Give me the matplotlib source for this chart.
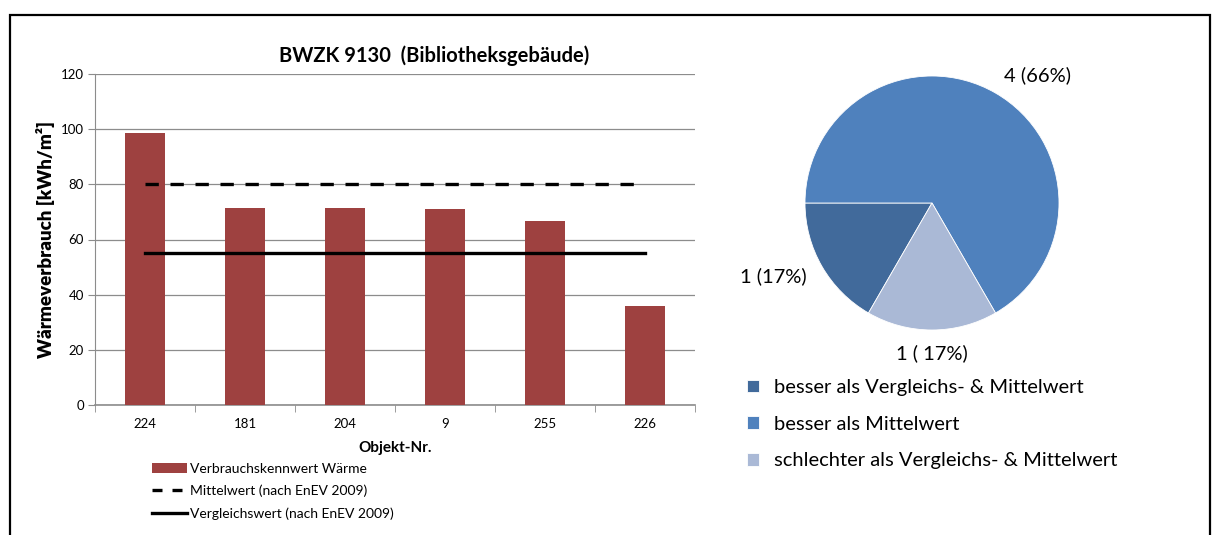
import matplotlib
matplotlib.use("Agg")
import matplotlib.pyplot as plt
from matplotlib.patches import Rectangle, Patch
from matplotlib.lines import Line2D
import numpy as np

plt.rcParams['font.family'] = ['Lato', 'DejaVu Sans']

# ---- data ----
objects = ["224", "181", "204", "9", "255", "226"]
consumption = [98.5, 71.5, 71.3, 71.0, 66.7, 36.0]
mittelwert = 80
vergleichswert = 55

pie_labels = ["besser als Vergleichs- & Mittelwert", "besser als Mittelwert",
              "schlechter als Vergleichs- & Mittelwert"]
pie_counts = [1, 4, 1]
pie_texts = ["1 (17%)", "4 (66%)", "1 ( 17%)"]

title = "BWZK 9130  (Bibliotheksgebäude)"
ylabel = "Wärmeverbrauch [kWh/m²]"
xlabel = "Objekt-Nr."
bar_legend = ["Verbrauchskennwert Wärme", "Mittelwert (nach EnEV 2009)",
              "Vergleichswert (nach EnEV 2009)"]

W, H = 1214, 535
fig = plt.figure(figsize=(W / 100, H / 100), dpi=100)

# outer frame
fig.add_artist(Rectangle((10 / W, -0.05), 1200 / W, 1 - 15 / H + 0.05,
                         transform=fig.transFigure, fill=False,
                         edgecolor='black', linewidth=1.6))

# ---- bar chart ----
ax = fig.add_axes([95 / W, 1 - 405 / H, 600 / W, (405 - 74) / H])
x = np.arange(len(objects))
ax.bar(x, consumption, width=0.4, color='#9E4140', zorder=3)
ax.plot([x[0], x[-1]], [mittelwert] * 2, color='black', lw=2.4,
        dashes=(4, 3.5), zorder=4)
ax.plot([x[0], x[-1]], [vergleichswert] * 2, color='black', lw=2.4, zorder=4)
ax.set_xlim(-0.5, len(objects) - 0.5)
ax.set_ylim(0, 120)
ax.set_yticks(range(0, 121, 20))
ax.yaxis.grid(True, color='#8c8c8c', lw=0.9, zorder=0)
ax.set_xticks(x)
ax.set_xticklabels(objects, fontsize=9.5)
ax.set_xticks(np.arange(-0.5, len(objects)), minor=True)
ax.tick_params(axis='x', which='major', length=0, pad=9)
ax.tick_params(axis='x', which='minor', length=5, color='#8c8c8c', direction='out')
ax.tick_params(axis='y', labelsize=9.5, length=5, color='#8c8c8c', pad=3)
for s in ['top', 'right']:
    ax.spines[s].set_visible(False)
for s in ['left', 'bottom']:
    ax.spines[s].set_color('#8c8c8c')
ax.spines['bottom'].set_linewidth(1.2)
ax.set_title(title, fontsize=14.5, fontweight='bold', pad=9, x=0.565)
ax.set_ylabel(ylabel, fontsize=13.5, fontweight='heavy', labelpad=4)
ax.set_xlabel(xlabel, fontsize=11, fontweight='bold', labelpad=8)

handles = [Patch(facecolor='#9E4140'),
           Line2D([], [], color='black', lw=2.4, dashes=(3, 3)),
           Line2D([], [], color='black', lw=2.4)]
fig.legend(handles, bar_legend, loc='upper left',
           bbox_to_anchor=(152 / W, 1 - 463 / H), frameon=False, fontsize=10,
           handlelength=2.5, handletextpad=0.2, labelspacing=0.70,
           borderpad=0, borderaxespad=0)

# ---- pie chart ----
cx, cy, r = 932, 203, 127
pax = fig.add_axes([(cx - r) / W, 1 - (cy + r) / H, 2 * r / W, 2 * r / H])
pie_colors = ['#416A9B', '#4F81BD', '#AAB9D6']
wedges, _ = pax.pie(pie_counts, colors=pie_colors, startangle=240,
                    counterclock=False, radius=1,
                    wedgeprops=dict(linewidth=0.6, edgecolor='white'))
pax.set_xlim(-1, 1)
pax.set_ylim(-1, 1)
pax.set_aspect('auto')
label_pos = [(-1.25, -0.58), (0.83, 1.01), (0.0, -1.18)]
for (lx, ly), t in zip(label_pos, pie_texts):
    pax.text(lx, ly, t, ha='center', va='center', fontsize=14.5, clip_on=False)

fig.legend(wedges, pie_labels, loc='upper left',
           bbox_to_anchor=(747 / W, 1 - 379 / H), frameon=False, fontsize=14.5,
           handlelength=0.6, handleheight=0.6, handletextpad=0.75,
           labelspacing=0.98, borderpad=0, borderaxespad=0)

fig.savefig("out.png", dpi=100)
